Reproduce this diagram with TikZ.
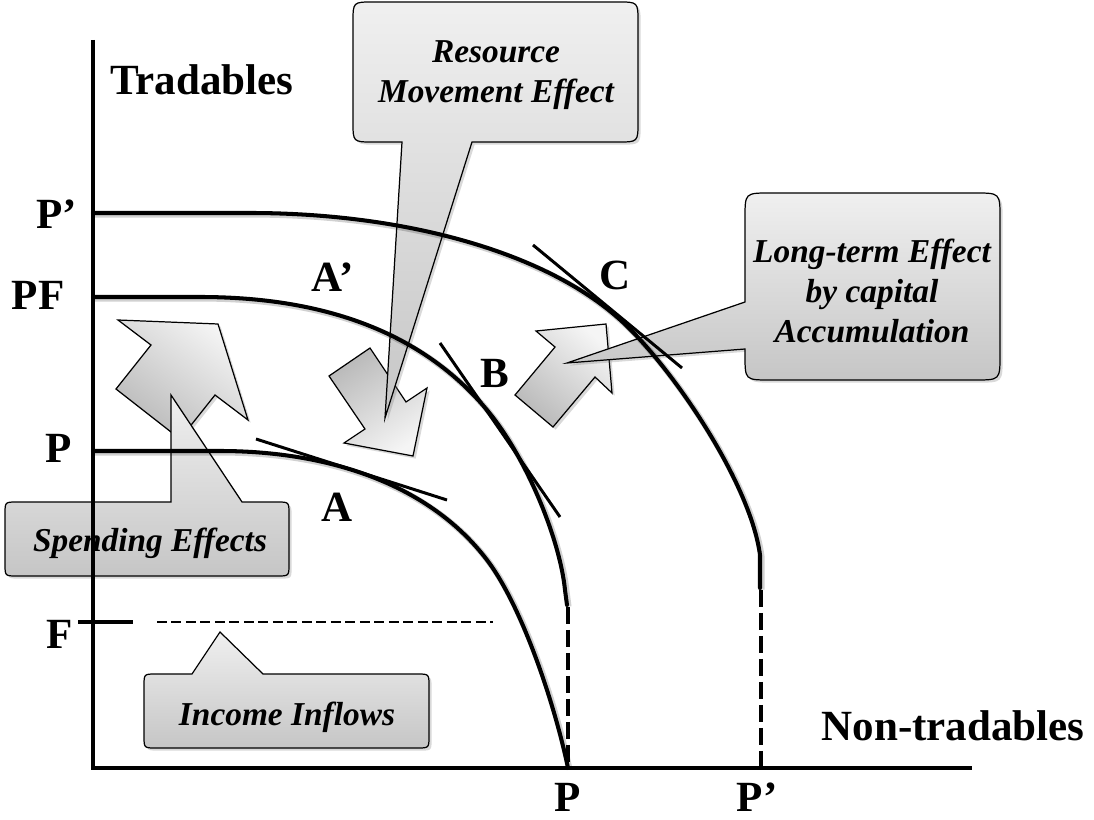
\documentclass[tikz,border=0pt]{standalone}
\usepackage{fontspec}
\setmainfont{Liberation Serif}
\usetikzlibrary{shadows}
\begin{document}
\begin{tikzpicture}[x=0.02cm,y=-0.02cm,
  curve/.style={line width=2.3pt, line cap=round,
    preaction={draw=black, opacity=0.18, line width=3.4pt, transform canvas={shift={(0.9pt,-0.9pt)}}}},
  axisline/.style={line width=2pt},
  tang/.style={line width=1.7pt},
  dashv/.style={line width=2.3pt, dash pattern=on 0.34cm off 0.12cm},
  dashh/.style={line width=1.5pt, dash pattern=on 0.2cm off 0.09cm},
  lab/.style={font=\bfseries\fontsize{24.5}{28}\selectfont, inner sep=0pt},
  ctext/.style={font=\bfseries\itshape\fontsize{19}{23}\selectfont, align=center, inner sep=0pt},
  shad/.style={drop shadow={opacity=0.3, shadow xshift=1.5pt, shadow yshift=-1.5pt}},
  callout/.style={draw=black, line width=0.7pt, shad, top color=gray!12, bottom color=gray!45},
  blockarrow/.style={draw=black, line width=0.7pt, shad},
]
\useasboundingbox (0,0) rectangle (1094,820);

% block arrows
\path[blockarrow, top color=gray!8, bottom color=gray!55, shading angle=-37]
  (218,324) -- (248,420) -- (215,395) -- (180,439) -- (116,389) -- (151,345) -- (118,320) -- cycle;
\path[blockarrow, top color=gray!8, bottom color=gray!55, shading angle=214]
  (413,456) -- (344,443) -- (365,429) -- (329,376) -- (370,348) -- (406,402) -- (427,388) -- cycle;
\path[blockarrow, top color=gray!8, bottom color=gray!55, shading angle=-40]
  (606,324) -- (612,393) -- (595,377) -- (553,427) -- (515,395) -- (555,347) -- (536,331) -- cycle;

% callouts
\path[callout] (402,142) -- (385,418) -- (472,142) -- (618,142) .. controls (638,142) .. (638,122)
  -- (638,22) .. controls (638,2) .. (618,2) -- (373,2) .. controls (353,2) .. (353,22)
  -- (353,122) .. controls (353,142) .. (373,142) -- cycle;
\path[callout] (745,302) -- (567,363) -- (745,349) -- (745,355) .. controls (745,380) .. (770,380)
  -- (975,380) .. controls (1000,380) .. (1000,355) -- (1000,218) .. controls (1000,193) .. (975,193)
  -- (770,193) .. controls (745,193) .. (745,218) -- cycle;
\path[callout] (171,502) -- (171,395) -- (242,502) -- (277,502) .. controls (289,502) .. (289,514)
  -- (289,564) .. controls (289,576) .. (277,576) -- (17,576) .. controls (5,576) .. (5,564)
  -- (5,514) .. controls (5,502) .. (17,502) -- cycle;
\path[callout] (192,674) -- (220,632) -- (263,674) -- (417,674) .. controls (429,674) .. (429,686)
  -- (429,736) .. controls (429,748) .. (417,748) -- (156,748) .. controls (144,748) .. (144,736)
  -- (144,686) .. controls (144,674) .. (156,674) -- cycle;

% axes
\draw[axisline] (93,40) -- (93,768) -- (972,768);

% curves
\draw[curve] (93,213) -- (250,213) .. controls (400,213) and (540,250) .. (617,317)
  .. controls (667,360) and (750,480) .. (760,555) -- (760,588);
\draw[dashv] (761,590) -- (761,768);
\draw[curve] (93,297) -- (200,297) .. controls (320,297) and (420,330) .. (487,410)
  .. controls (527,458) and (560,540) .. (565,590) -- (567,605);
\draw[dashv] (568,607) -- (568,768);
\draw[curve] (93,451) -- (220,451) .. controls (330,451) and (430,485) .. (487,560)
  .. controls (522,606) and (555,705) .. (568,768);

% tangents
\draw[tang] (256,439) -- (447,500);
\draw[tang] (440,343) -- (560,517);
\draw[tang] (533,245) -- (682,368);

% F level
\draw[line width=2.3pt] (78,622) -- (133,622);
\draw[dashh] (157,622) -- (493,622);

% labels
\node[lab] (tradables) at (202,80) {Tradables};
\node[lab] (nontradables) at (953,726) {Non-tradables};
\node[lab] (lPp) at (57,214) {P’};
\node[lab] (lPF) at (38,295) {PF};
\node[lab] (lP) at (59,448) {P};
\node[lab] (lF) at (60,634) {F};
\node[lab] (bP) at (568,797) {P};
\node[lab] (bPp) at (757,797) {P’};
\node[lab] (lA) at (337,507) {A};
\node[lab] (lAp) at (333,277) {A’};
\node[lab] (lB) at (495,373) {B};
\node[lab] (lC) at (615,275) {C};

\node[ctext] (tRes) at (496,75) {Resource\\Movement Effect};
\node[ctext] (tLong) at (872,291) {Long-term Effect\\by capital\\Accumulation};
\node[ctext] (tSpend) at (150,543) {Spending Effects};
\node[ctext] (tInc) at (287,717) {Income Inflows};
\end{tikzpicture}
\end{document}
